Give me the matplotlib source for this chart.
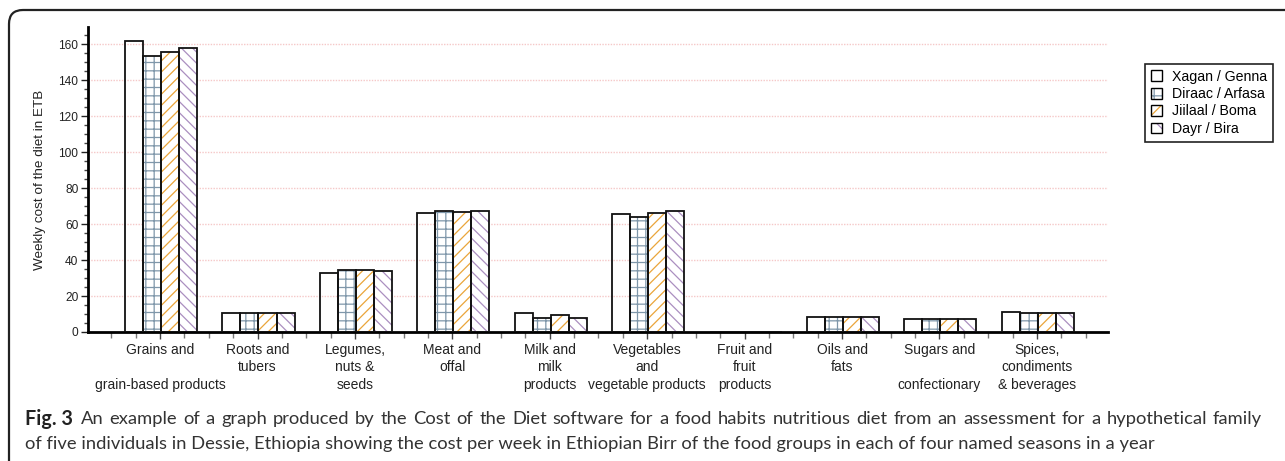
import numpy as np
import matplotlib
matplotlib.use('Agg')
import matplotlib.pyplot as plt
import matplotlib.patches as mpatches
from matplotlib.transforms import IdentityTransform
from matplotlib.ticker import MultipleLocator

W, H = 1285, 461

categories = ['Grains and\n\ngrain-based products', 'Roots and\ntubers',
              'Legumes,\nnuts &\nseeds', 'Meat and\noffal',
              'Milk and\nmilk\nproducts', 'Vegetables\nand\nvegetable products',
              'Fruit and\nfruit\nproducts', 'Oils and\nfats',
              'Sugars and\n\nconfectionary', 'Spices,\ncondiments\n& beverages']
seasons = ['Xagan / Genna', 'Diraac / Arfasa', 'Jiilaal / Boma', 'Dayr / Bira']

xagan = [161.5, 10.7, 32.6, 66.0, 10.7, 65.5, 0, 8.5, 7.0, 11.3]
diraac = [153.5, 10.7, 34.5, 67.2, 7.8, 64.0, 0, 8.5, 7.0, 10.7]
jiilaal = [155.5, 10.7, 34.5, 66.5, 9.3, 66.2, 0, 8.5, 7.0, 10.7]
dayr = [157.7, 10.7, 33.9, 67.0, 7.8, 67.0, 0, 8.5, 7.0, 10.7]

hatches = [None, '++', '///', '\\\\\\']
hatch_colors = ['white', '#7f97aa', '#eaa53a', '#ab8fc0']

caption_bold = 'Fig. 3'
caption_1 = ('An example of a graph produced by the Cost of the Diet software for a food '
             'habits nutritious diet from an assessment for a hypothetical family')
caption_2 = ('of five individuals in Dessie, Ethiopia showing the cost per week in Ethiopian '
             'Birr of the food groups in each of four named seasons in a year')

plt.rcParams['font.family'] = ['Liberation Sans', 'DejaVu Sans']
plt.rcParams['hatch.linewidth'] = 0.9


def px(x0, y0, x1, y1):
    # image pixel box (top-left origin) -> figure fraction rect
    return [x0 / W, 1 - y1 / H, (x1 - x0) / W, (y1 - y0) / H]


def draw_bars(ax):
    x = np.arange(len(categories))
    width = 0.185
    series = [xagan, diraac, jiilaal, dayr]
    for i, vals in enumerate(series):
        pos = x + (i - 1.5) * width + 0.01
        if hatches[i]:
            ax.bar(pos, vals, width, color='white', edgecolor=hatch_colors[i],
                   hatch=hatches[i], linewidth=0, zorder=2)
        ax.bar(pos, vals, width, facecolor='none', edgecolor='#111111',
               linewidth=1.3, zorder=3)

    ax.set_xlim(-0.74, 9.73)
    ax.set_ylim(0, 169.5)
    ax.set_xticks(x)
    ax.set_xticklabels(categories, fontsize=10, linespacing=1.3, color='#222222')
    ax.xaxis.set_minor_locator(MultipleLocator(0.25))
    ax.yaxis.set_major_locator(MultipleLocator(20))
    ax.yaxis.set_minor_locator(MultipleLocator(5))
    ax.tick_params(axis='y', which='major', labelsize=8.6, length=5, width=1, pad=2,
                   colors='#222222')
    ax.tick_params(axis='y', which='minor', length=3, width=1, colors='#444444')
    ax.tick_params(axis='x', which='major', length=5, width=1, pad=3, colors='#444444',
                   labelcolor='#222222')
    ax.tick_params(axis='x', which='minor', length=4, width=1, colors='#777777')
    for s in ['top', 'right']:
        ax.spines[s].set_visible(False)
    ax.spines['left'].set_linewidth(2)
    ax.spines['bottom'].set_linewidth(2)
    for yv in range(20, 161, 20):
        ax.axhline(yv, color='#f5c8c8', linestyle=(0, (1, 1)), linewidth=1, zorder=1)
    ax.set_ylabel('Weekly cost of the diet in ETB', fontsize=9.7, labelpad=9,
                  color='#222222')

    handles = []
    for i in range(4):
        border = mpatches.Patch(facecolor='none', edgecolor='black', linewidth=1)
        if hatches[i]:
            fill = mpatches.Patch(facecolor='white', edgecolor=hatch_colors[i],
                                  hatch=hatches[i][:2], linewidth=0)
            handles.append((fill, border))
        else:
            handles.append((border,))
    leg = ax.figure.legend(handles, seasons, loc='upper left',
                           bbox_to_anchor=(1145 / W, 1 - 64 / H), borderaxespad=0,
                           fancybox=False, edgecolor='#222222', fontsize=10.2,
                           handlelength=0.8, handleheight=0.8, handletextpad=0.7,
                           labelspacing=0.24, borderpad=0.4, framealpha=1)
    leg.get_frame().set_linewidth(1.2)


def draw_caption(fig):
    renderer = fig.canvas.get_renderer()
    fs = 13.2
    fam = ['Lato', 'DejaVu Sans']
    y1 = 1 - 419 / H
    t = fig.text(25 / W, y1, caption_bold, fontsize=14.2, fontweight='bold',
                 family=fam, va='center', color='#222222')
    bb = t.get_window_extent(renderer)
    # line 1 is justified out to the right margin
    words = caption_1.split()
    texts = [fig.text(0, y1, w, fontsize=fs, family=fam, va='center', color='#333333')
             for w in words]
    widths = [tx.get_window_extent(renderer).width for tx in texts]
    start = bb.x1 + 8
    end = 1262
    gap = (end - start - sum(widths)) / (len(words) - 1)
    xpos = start
    for tx, wd in zip(texts, widths):
        tx.set_x(xpos / W)
        xpos += wd + gap
    fig.text(25 / W, 1 - 444 / H, caption_2, fontsize=fs, family=fam,
             va='center', color='#333333')


def make_plot():
    fig = plt.figure(figsize=(W / 100, H / 100), dpi=100)
    ax = fig.add_axes(px(88, 27, 1108, 332))
    draw_bars(ax)
    draw_caption(fig)
    frame = mpatches.FancyBboxPatch((9, -60), 1400, H - 10 + 60,
                                    boxstyle='round,pad=0,rounding_size=14',
                                    transform=IdentityTransform(), facecolor='none',
                                    edgecolor='#222222', linewidth=1.6)
    fig.add_artist(frame)
    fig.savefig('out.png', dpi=100)
    plt.close()


if __name__ == '__main__':
    make_plot()
